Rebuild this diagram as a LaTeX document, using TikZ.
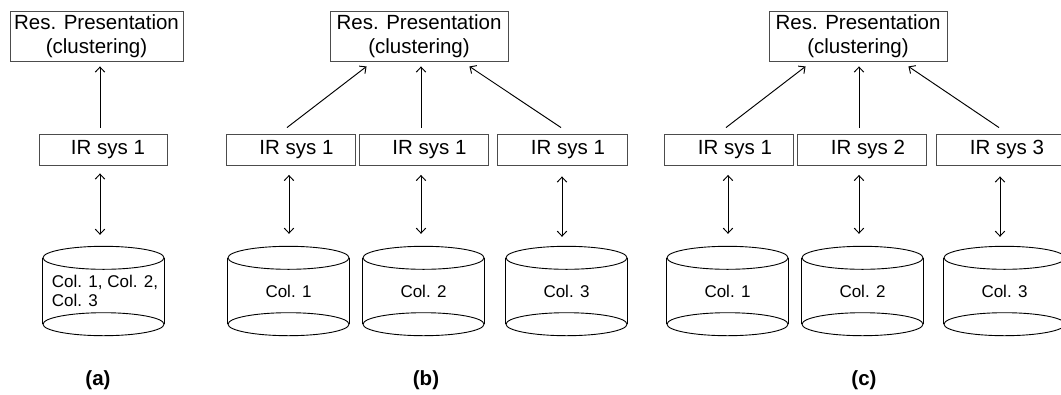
\documentclass[tikz,border=0pt]{standalone}
\usepackage{fontspec}
\setmainfont{Liberation Sans}
\usetikzlibrary{arrows.meta,calc}
\definecolor{boxgray}{gray}{0.3}
\newcommand\drawcyl[1]{%
  \draw[cylline] ($(#1.north)+(0,11.5)$) ellipse [x radius=60.5pt, y radius=11.5pt];
  \draw[cylline] ($(#1.south)-(0,11.5)$) ellipse [x radius=60.5pt, y radius=11.5pt];
  \draw[cylline] ($(#1.north west)+(0,11.5)$) -- ($(#1.south west)-(0,11.5)$);
  \draw[cylline] ($(#1.north east)+(0,11.5)$) -- ($(#1.south east)-(0,11.5)$);}
\begin{document}
\begin{tikzpicture}[x=1pt,y=-1pt,
  resbox/.style={draw=boxgray, line width=0.9pt, minimum width=#1, minimum height=50pt,
    inner sep=0pt, align=center, font=\fontsize{20.5}{24}\selectfont},
  irbox/.style={draw=boxgray, line width=0.9pt, minimum width=129pt, minimum height=31.5pt,
    inner sep=0pt, font=\fontsize{20.5}{24}\selectfont},
  cylnode/.style={minimum width=121pt, minimum height=89pt, inner sep=0pt,
    font=\fontsize{17}{18.5}\selectfont},
  cylline/.style={draw=black, line width=0.9pt},
  arr/.style={-{Straight Barb[length=5pt,width=9.5pt]}, line width=0.95pt},
  darr/.style={{Straight Barb[length=5pt,width=9.5pt]}-{Straight Barb[length=5pt,width=9.5pt]}, line width=0.95pt},
  lab/.style={font=\fontsize{20.5}{24}\selectfont\bfseries}]
\clip (0,0) rectangle (1061,394);
\fill[white] (0,0) rectangle (1061,394);

% ---------- panel (a)
\node[resbox=173pt] (ares) at (96.5,36) {Res. Presentation\\(clustering)};
\node[irbox, minimum width=128pt] (air) at (103,149.75) {\hspace*{10pt}IR sys 1};
\node[cylnode, align=left] (acyl) at (103.5,291) {\hspace*{3pt}Col. 1, Col. 2,\\\hspace*{3pt}Col. 3};
\drawcyl{acyl}
\draw[arr] ([xshift=-3pt,yshift=6pt]air.north) -- ([xshift=3.5pt,yshift=-5pt]ares.south);
\draw[darr] ([xshift=-3pt,yshift=-7.5pt]air.south) -- ([xshift=-3.5pt,yshift=11.5pt]acyl.north);
\node[lab] (la) at (98,380) {(a)};

% ---------- panel (b)
\node[resbox=178pt] (bres) at (419,36) {Res. Presentation\\(clustering)};
\node[irbox] (b1) at (290.5,149.75) {\hspace*{12pt}IR sys 1};
\node[irbox] (b2) at (423.5,149.75) {\hspace*{12pt}IR sys 1};
\node[irbox, minimum width=130pt] (b3) at (562,149.75) {\hspace*{12pt}IR sys 1};
\node[cylnode] (bc1) at (288.5,291) {Col. 1};
\node[cylnode] (bc2) at (423.5,291) {Col. 2};
\node[cylnode] (bc3) at (566.5,291) {Col. 3};
\drawcyl{bc1}\drawcyl{bc2}\drawcyl{bc3}
\draw[arr] ([xshift=-3.5pt,yshift=6pt]b1.north) -- ([xshift=37pt,yshift=-5pt]bres.south west);
\draw[arr] ([xshift=-2.5pt,yshift=6pt]b2.north) -- ([xshift=2pt,yshift=-5pt]bres.south);
\draw[arr] ([xshift=-1pt,yshift=6pt]b3.north) -- ([xshift=-39pt,yshift=-5pt]bres.south east);
\draw[darr] ([xshift=-1.5pt,yshift=-9pt]b1.south) -- ([xshift=0.5pt,yshift=12.5pt]bc1.north);
\draw[darr] ([xshift=-2.5pt,yshift=-9pt]b2.south) -- ([xshift=-2.5pt,yshift=12.5pt]bc2.north);
\draw[darr] ([xshift=0pt,yshift=-10.5pt]b3.south) -- ([xshift=-4.5pt,yshift=9.5pt]bc3.north);
\node[lab] (lb) at (426,380) {(b)};

% ---------- panel (c)
\node[resbox=178pt] (cres) at (858,36) {Res. Presentation\\(clustering)};
\node[irbox] (c1) at (729,149.75) {\hspace*{12pt}IR sys 1};
\node[irbox] (c2) at (862,149.75) {\hspace*{12pt}IR sys 2};
\node[irbox, minimum width=130pt] (c3) at (1001,149.75) {\hspace*{12pt}IR sys 3};
\node[cylnode] (cc1) at (727.5,291) {Col. 1};
\node[cylnode] (cc2) at (862.5,291) {Col. 2};
\node[cylnode] (cc3) at (1004.5,291) {Col. 3};
\drawcyl{cc1}\drawcyl{cc2}\drawcyl{cc3}
\draw[arr] ([xshift=-3pt,yshift=6pt]c1.north) -- ([xshift=37pt,yshift=-5pt]cres.south west);
\draw[arr] ([xshift=-3pt,yshift=6pt]c2.north) -- ([xshift=1pt,yshift=-5pt]cres.south);
\draw[arr] ([xshift=-2pt,yshift=6pt]c3.north) -- ([xshift=-39pt,yshift=-5pt]cres.south east);
\draw[darr] ([xshift=-1pt,yshift=-9pt]c1.south) -- ([xshift=0.5pt,yshift=12.5pt]cc1.north);
\draw[darr] ([xshift=-3pt,yshift=-9pt]c2.south) -- ([xshift=-3.5pt,yshift=12.5pt]cc2.north);
\draw[darr] ([xshift=-1pt,yshift=-10.5pt]c3.south) -- ([xshift=-4.5pt,yshift=9.5pt]cc3.north);
\node[lab] (lc) at (864,380) {(c)};
\end{tikzpicture}
\end{document}
